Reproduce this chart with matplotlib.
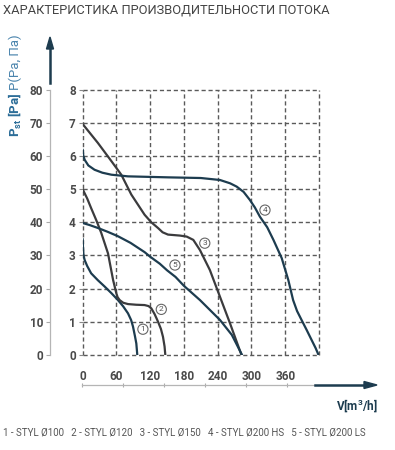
import matplotlib.pyplot as plt

plt.rcParams['font.family'] = ['Roboto', 'DejaVu Sans']
plt.rcParams['mathtext.fontset'] = 'custom'
plt.rcParams['mathtext.rm'] = 'Roboto'
plt.rcParams['mathtext.bf'] = 'Roboto:bold'

# airflow V [m3/h] and static pressure (inner scale, x10 Pa)
v1 = [0, 0.5, 1.5, 3.5, 8, 15, 27, 39, 51, 62.7, 72, 80.5, 86, 89.4, 93, 95.3, 97]
p1 = [3.5, 3.25, 3.0, 2.86, 2.68, 2.46, 2.25, 2.06, 1.86, 1.65, 1.46, 1.25, 1.05, 0.85, 0.55, 0.34, 0.0]

v2 = [0, 8, 15, 24, 33, 45, 54, 57, 59.7, 62, 65.7, 72, 80.5, 95, 110, 117, 122, 128, 133.8,
      139, 142.7, 145.5, 146.8]
p2 = [5.0, 4.72, 4.43, 4.07, 3.68, 3.06, 2.26, 2.05, 1.86, 1.74, 1.65, 1.57, 1.53, 1.51, 1.5,
      1.47, 1.4, 1.22, 1.0, 0.78, 0.54, 0.25, 0.0]

v3 = [0, 27, 51, 68.6, 86.4, 110, 122, 133.8, 142, 151.6, 173, 184.8, 196.6, 208.5, 226, 244,
      261.8, 282]
p3 = [6.97, 6.4, 5.85, 5.44, 4.84, 4.23, 4.0, 3.83, 3.7, 3.63, 3.6, 3.57, 3.47, 3.16, 2.56,
      1.75, 0.95, 0.0]

v4 = [0, 1, 3.5, 10, 21, 35, 51, 80.5, 151.6, 210, 244, 262, 273.7, 286, 297, 306, 315, 328,
      339, 353.7, 365.4, 374, 381, 389, 398, 407, 414, 419]
p4 = [6.2, 6.02, 5.89, 5.72, 5.59, 5.5, 5.44, 5.39, 5.36, 5.34, 5.28, 5.18, 5.08, 4.92, 4.68,
      4.45, 4.17, 3.85, 3.47, 2.92, 2.26, 1.65, 1.32, 1.05, 0.75, 0.44, 0.2, 0.0]

v5 = [0, 12, 27, 45, 62.7, 85, 110, 120, 137, 150, 165, 180, 208.5, 244, 265, 283]
p5 = [3.98, 3.92, 3.83, 3.71, 3.58, 3.38, 3.1, 2.96, 2.75, 2.55, 2.35, 2.08, 1.65, 1.05,
      0.6, 0.0]

series = [(v1, p1, '#1d3c4f'), (v2, p2, '#3b3b3d'), (v3, p3, '#3b3b3d'),
          (v4, p4, '#1d3c4f'), (v5, p5, '#1d3c4f')]

# circled curve numbers
tag_v = [107, 139.7, 217, 324, 164]
tag_p = [0.77, 1.37, 3.37, 4.37, 2.71]
tag_txt = ['1', '2', '3', '4', '5']

x_ticks = [0, 60, 120, 180, 240, 300, 360]
grid_x = [0, 60, 120, 180, 240, 300, 360, 420]
inner_y = [0, 1, 2, 3, 4, 5, 6, 7, 8]
outer_y = [0, 10, 20, 30, 40, 50, 60, 70, 80]

legend_text = ('1 - STYL Ø100   2 - STYL Ø120   3 - STYL Ø150   '
               '4 - STYL Ø200 HS   5 - STYL Ø200 LS')

W, H = 395, 450
fig = plt.figure(figsize=(W / 100, H / 100), dpi=100)
fig.patch.set_facecolor('white')


def fx(px):
    return px / W


def fy(py):
    return 1 - py / H


ax = fig.add_axes([fx(82.7), fy(354.7), fx(319) - fx(82.7), fy(90) - fy(354.7)])
ax.set_xlim(0, 420)
ax.set_ylim(0, 8)
for s in ax.spines.values():
    s.set_visible(False)

for gx in grid_x:
    ax.axvline(gx, color='#5a5a5a', lw=1.0, ls=(0, (3, 2)), clip_on=False, zorder=1)
for gy in inner_y:
    ax.axhline(gy, color='#5a5a5a', lw=1.0, ls=(0, (3, 2)), clip_on=False, zorder=1)

for v, p, c in series:
    ax.plot(v, p, color=c, lw=1.6, solid_capstyle='round', solid_joinstyle='round', zorder=3)

for tv, tp, t in zip(tag_v, tag_p, tag_txt):
    ax.text(tv, tp, t, fontsize=6, color='#555555', ha='center', va='center', zorder=4,
            bbox=dict(boxstyle='circle,pad=0.25', fc='white', ec='#666666', lw=0.8))

ax.set_yticks(inner_y)
ax.set_yticklabels([str(y) for y in inner_y], fontsize=8.5, fontweight='bold', color='#4a4a4a')
ax.tick_params(axis='y', length=3, width=0.8, color='#888888', pad=2)
ax.set_xticks(x_ticks)
ax.set_xticklabels([str(x) for x in x_ticks], fontsize=8.5, fontweight='bold', color='#4a4a4a')
ax.tick_params(axis='x', length=0, pad=11)

# outer pressure scale in Pa
ax2 = fig.add_axes([fx(50), fy(354.7), 0.001, fy(90) - fy(354.7)])
ax2.set_ylim(0, 80)
ax2.set_xticks([])
ax2.set_yticks(outer_y)
ax2.set_yticklabels([str(y) for y in outer_y], fontsize=8.5, fontweight='bold', color='#4a4a4a')
ax2.tick_params(axis='y', length=3, width=0.8, color='#aaaaaa', pad=2)
for k, s in ax2.spines.items():
    s.set_visible(k == 'left')
ax2.spines['left'].set_color('#b5b5b5')
ax2.spines['left'].set_linewidth(0.9)
ax2.patch.set_visible(False)

# arrow on top of the pressure axis
fig.add_artist(plt.Line2D([fx(50), fx(50)], [fy(83), fy(48)], transform=fig.transFigure,
                          color='#1d3c4f', lw=1.8))
fig.add_artist(plt.Polygon([[fx(46.5), fy(49)], [fx(53.5), fy(49)], [fx(50), fy(37)]],
                           closed=True, transform=fig.transFigure, color='#1d3c4f'))

# flow axis below the chart
ax3 = fig.add_axes([fx(81.7), fy(385), fx(315) - fx(81.7), 0.001])
ax3.set_xlim(0, 60 * (315 - 81.7) / 41)
ax3.set_yticks([])
ax3.set_xticks([0, 60, 120, 180, 240, 300])
ax3.set_xticklabels([])
ax3.tick_params(axis='x', direction='inout', length=3, width=0.8, color='#aaaaaa')
for k, s in ax3.spines.items():
    s.set_visible(k == 'bottom')
ax3.spines['bottom'].set_color('#b5b5b5')
ax3.spines['bottom'].set_linewidth(0.9)
ax3.patch.set_visible(False)
fig.add_artist(plt.Line2D([fx(315), fx(366)], [fy(385), fy(385)], transform=fig.transFigure,
                          color='#1d3c4f', lw=1.8))
fig.add_artist(plt.Polygon([[fx(364), fy(381.5)], [fx(364), fy(388.5)], [fx(377), fy(385)]],
                           closed=True, transform=fig.transFigure, color='#1d3c4f'))

fig.text(fx(378), fy(406), 'V[m$^\\mathregular{3}$/h]', fontsize=8.5, fontweight='bold',
         color='#1d3c4f', ha='right', va='center')

# axis caption (rotated)
fig.text(fx(15), fy(115), 'P$_\\mathbf{st}$ [Pa]', rotation=90, fontsize=9.5, fontweight='bold',
         color='#2c6d98', ha='center', va='center')
fig.text(fx(15), fy(62), 'P(Pa, Па)', rotation=90, fontsize=9.5, color='#4a84ad',
         ha='center', va='center')

fig.text(fx(3), fy(10), 'ХАРАКТЕРИСТИКА ПРОИЗВОДИТЕЛЬНОСТИ ПОТОКА', fontsize=9.3,
         color='#444444', ha='left', va='center')

fig.text(fx(3), fy(433), legend_text, fontsize=7.0, color='#555555', ha='left', va='center')

fig.savefig('out.png', dpi=100, facecolor='white')
